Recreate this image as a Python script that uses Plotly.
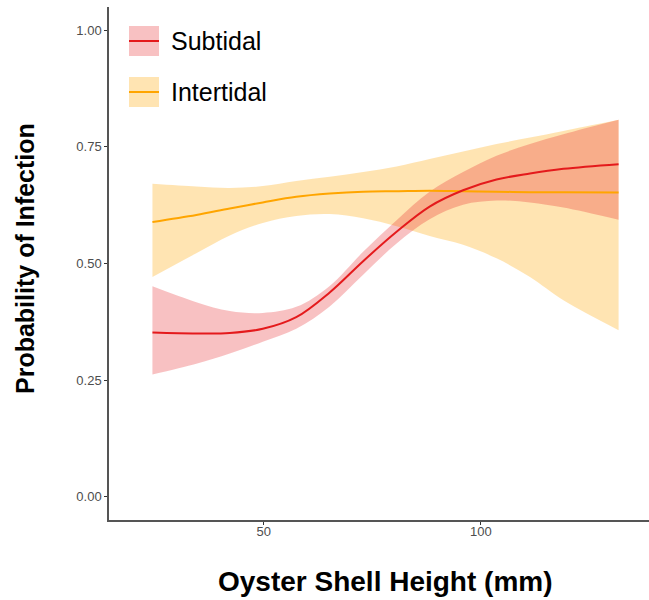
import plotly.graph_objects as go

# Shell height (mm) at which values were read
x_vals = [24.4, 34.5, 42.2, 49.8, 57.5, 65.2, 72.9, 80.6, 88.2, 95.9, 103.6, 111.3, 119.0, 131.7]

# Subtidal: fitted probability and confidence band
sub_fit = [0.352, 0.350, 0.351, 0.360, 0.385, 0.438, 0.505, 0.568, 0.622, 0.657, 0.680, 0.693, 0.703, 0.713]
sub_upper = [0.451, 0.417, 0.398, 0.394, 0.407, 0.452, 0.525, 0.593, 0.654, 0.696, 0.731, 0.756, 0.777, 0.808]
sub_lower = [0.262, 0.285, 0.307, 0.332, 0.360, 0.408, 0.476, 0.543, 0.595, 0.626, 0.635, 0.631, 0.620, 0.594]

# Intertidal: fitted probability and confidence band
int_fit = [0.589, 0.604, 0.618, 0.631, 0.643, 0.650, 0.654, 0.655, 0.656, 0.655, 0.654, 0.653, 0.653, 0.652]
int_upper = [0.671, 0.665, 0.662, 0.666, 0.677, 0.686, 0.696, 0.708, 0.724, 0.740, 0.756, 0.770, 0.784, 0.808]
int_lower = [0.471, 0.522, 0.560, 0.587, 0.602, 0.606, 0.597, 0.580, 0.559, 0.540, 0.511, 0.471, 0.421, 0.357]

x_ticks = [50, 100]
y_ticks = [0.0, 0.25, 0.5, 0.75, 1.0]
y_ticklabels = ["0.00", "0.25", "0.50", "0.75", "1.00"]

RED = "#E41A1C"
ORANGE = "#FFA500"
RED_FILL = "rgba(228,26,28,0.27)"
ORANGE_FILL = "rgba(255,165,0,0.30)"

fig = go.Figure()

def band(lower, upper, fill):
    fig.add_trace(go.Scatter(x=x_vals, y=lower, mode="lines", line=dict(width=0, shape="spline"),
                             showlegend=False, hoverinfo="skip"))
    fig.add_trace(go.Scatter(x=x_vals, y=upper, mode="lines", line=dict(width=0, shape="spline"),
                             fill="tonexty", fillcolor=fill, showlegend=False, hoverinfo="skip"))

band(int_lower, int_upper, ORANGE_FILL)
band(sub_lower, sub_upper, RED_FILL)

fig.add_trace(go.Scatter(x=x_vals, y=int_fit, mode="lines", name="Intertidal",
                         line=dict(color=ORANGE, width=2, shape="spline"), showlegend=False))
fig.add_trace(go.Scatter(x=x_vals, y=sub_fit, mode="lines", name="Subtidal",
                         line=dict(color=RED, width=2, shape="spline"), showlegend=False))

# Plot area geometry (pixels)
W, H = 649, 600
L, R, T, B = 109, 0, 7, 80
pw, ph = W - L - R, H - T - B

def px(xp):
    return (xp - L) / pw

def py(yp):
    return 1 - (yp - T) / ph

shapes = []
annotations = []
legend_items = [("Subtidal", RED, RED_FILL, 26, 56), ("Intertidal", ORANGE, ORANGE_FILL, 77, 107)]
for label, lc, fc, y0, y1 in legend_items:
    shapes.append(dict(type="rect", xref="paper", yref="paper", x0=px(129), x1=px(159),
                       y0=py(y1), y1=py(y0), fillcolor=fc, line=dict(width=0), layer="above"))
    ym = py((y0 + y1) / 2)
    shapes.append(dict(type="line", xref="paper", yref="paper", x0=px(129), x1=px(159),
                       y0=ym, y1=ym, line=dict(color=lc, width=2), layer="above"))
    annotations.append(dict(text=label, xref="paper", yref="paper", x=px(169), y=ym,
                            xanchor="left", yanchor="middle", showarrow=False,
                            font=dict(family="Liberation Sans, Arial", size=25, color="black")))

annotations.append(dict(text="<b>Oyster Shell Height (mm)</b>", xref="paper", yref="paper",
                        x=px(385), y=py(581), xanchor="center", yanchor="middle", showarrow=False,
                        font=dict(family="Liberation Sans, Arial", size=28, color="black")))
annotations.append(dict(text="<b>Probability of Infection</b>", xref="paper", yref="paper",
                        x=px(25), y=py(259), xanchor="center", yanchor="middle", showarrow=False,
                        textangle=-90,
                        font=dict(family="Liberation Sans, Arial", size=25, color="black")))

fig.update_layout(
    width=W, height=H,
    margin=dict(l=L, r=R, t=T, b=B),
    paper_bgcolor="white", plot_bgcolor="white",
    shapes=shapes, annotations=annotations,
    showlegend=False,
    xaxis=dict(range=[14.4, 138.7], tickvals=x_ticks, ticks="outside", ticklen=3,
               tickcolor="#333333", showline=True, linecolor="#555555", linewidth=1.5,
               showgrid=False, zeroline=False, ticklabelstandoff=-4,
               tickfont=dict(family="Liberation Sans, Arial", size=13, color="#4D4D4D")),
    yaxis=dict(range=[-0.05, 1.05], tickvals=y_ticks, ticktext=y_ticklabels, ticks="outside",
               ticklen=3, tickcolor="#333333", showline=True, linecolor="#555555", linewidth=1.5,
               showgrid=False, zeroline=False,
               tickfont=dict(family="Liberation Sans, Arial", size=13, color="#4D4D4D")),
)

fig.write_html("out.html")
